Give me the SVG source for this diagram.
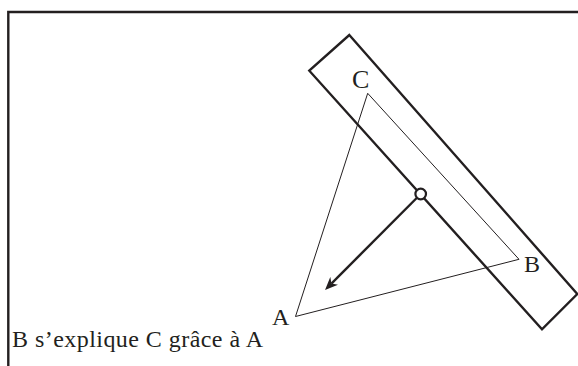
<svg xmlns="http://www.w3.org/2000/svg" width="578" height="366" viewBox="0 0 578 366">
<style>
.frame{fill:none;stroke:#231f20;stroke-width:2.4}
.thick{fill:none;stroke:#231f20;stroke-width:2.4;stroke-linejoin:miter}
.thin{fill:none;stroke:#231f20;stroke-width:1}
.lbl{font-family:"Liberation Serif","Times New Roman",serif;fill:#231f20;font-size:24px}
</style>
<defs>
<marker id="ah" markerUnits="userSpaceOnUse" markerWidth="14" markerHeight="12" refX="4" refY="5.5" orient="auto" viewBox="0 0 14 11">
<path d="M0,0 L13,5.5 L0,11 L4,5.5 Z" fill="#231f20"/>
</marker>
</defs>
<rect width="578" height="366" fill="#ffffff"/>
<path class="frame" d="M8.3,366 V12 H578"/>
<g id="ruler">
<polygon class="thick" points="349.3,35 577.3,294 542,329.3 309.3,70.7"/>
</g>
<g id="triangle">
<polygon class="thin" points="367.7,93.3 519,259.3 295.5,316.5"/>
</g>
<g id="connectors">
<line class="thick" x1="420.7" y1="194" x2="331.4" y2="283.6" marker-end="url(#ah)"/>
</g>
<g id="pivot">
<circle cx="420.7" cy="194" r="5.3" fill="#ffffff" stroke="#231f20" stroke-width="2.2"/>
</g>
<g id="labels">
<text class="lbl" x="352" y="88" style="font-size:26px">C</text>
<text class="lbl" x="524" y="272">B</text>
<text class="lbl" x="272" y="325">A</text>
<text class="lbl" x="12" y="347" textLength="251" lengthAdjust="spacing">B s’explique C grâce à A</text>
</g>
</svg>
